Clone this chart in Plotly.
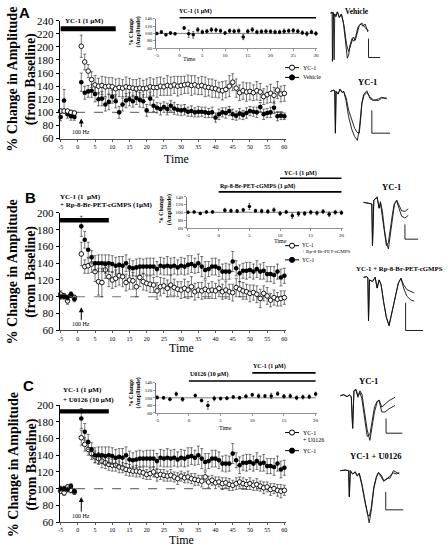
import plotly.graph_objects as go

W, H = 448, 553
SERIF = "Liberation Serif"
SANS = "Liberation Sans"

def fx(px):
    return px / W

def fy(py):
    return 1 - py / H

# ---------------- data: main panels (time in min, % of baseline) ----------------
times_main = [-5, -4, -3, -2, -1,
              1, 2, 3, 4, 5, 6, 7, 8, 9, 10,
              11, 12, 13, 14, 15, 16, 17, 18, 19, 20,
              21, 22, 23, 24, 25, 26, 27, 28, 29, 30,
              31, 32, 33, 34, 35, 36, 37, 38, 39, 40,
              41, 42, 43, 44, 45, 46, 47, 48, 49, 50,
              51, 52, 53, 54, 55, 56, 57, 58, 59, 60]

a_yc1 = [102, 102, 102, 100, 99,
         201, 177, 163, 150, 142, 140, 141, 139, 140, 139,
         136, 138, 137, 139, 138, 137, 136, 137, 136, 137,
         139, 138, 138, 140, 139, 141, 140, 142, 140, 141,
         142, 143, 141, 142, 140, 141, 139, 138, 137, 136,
         134, 133, 135, 140, 146, 137, 130, 133, 131, 132,
         130, 133, 131, 124, 127, 129, 126, 134, 128, 129]
a_yc1_err = [3, 3, 2, 3, 3,
             17, 12, 10, 12, 14, 12, 14, 15, 13, 14,
             15, 14, 13, 15, 14, 13, 14, 15, 13, 14,
             14, 13, 15, 14, 13, 15, 14, 13, 15, 14,
             13, 14, 15, 14, 13, 14, 15, 13, 14, 13,
             12, 14, 13, 16, 13, 14, 12, 13, 14, 13,
             12, 14, 13, 12, 13, 14, 12, 13, 12, 12]
a_vehicle = [93, 118, 97, 94, 93,
             146, 130, 132, 133, 128, 120, 121, 112, 116, 124,
             117, 100, 112, 118, 120, 117, 122, 119, 117, 103,
             121, 110, 107, 105, 108, 105, 110, 106, 104, 103,
             104, 101, 102, 100, 101, 101, 100, 99, 100, 92,
             97, 100, 99, 102, 97, 95, 98, 96, 99, 102,
             101, 100, 108, 97, 99, 100, 107, 94, 95, 94]
a_vehicle_err = [6, 17, 6, 6, 5,
                 14, 10, 9, 10, 12, 10, 11, 10, 12, 10,
                 10, 9, 10, 11, 10, 9, 10, 11, 10, 9,
                 10, 9, 8, 9, 8, 9, 8, 9, 8, 8,
                 8, 7, 8, 7, 8, 7, 8, 7, 8, 7,
                 8, 7, 8, 7, 8, 7, 8, 7, 8, 7,
                 7, 8, 7, 8, 7, 8, 9, 7, 6, 5]

bc_yc1 = [100, 100, 99, 103, 97,
          184, 168, 156, 147, 140, 140, 140, 139, 140, 139,
          137, 138, 137, 140, 135, 134, 135, 136, 136, 136,
          136, 136, 133, 137, 136, 137, 136, 137, 135, 137,
          136, 138, 139, 137, 140, 136, 132, 133, 136, 136,
          134, 130, 130, 130, 142, 134, 128, 131, 131, 132,
          130, 133, 130, 131, 127, 127, 126, 130, 123, 125]
bc_yc1_err = [3, 3, 3, 3, 3,
              12, 10, 9, 8, 9, 10, 10, 11, 10, 10,
              10, 10, 11, 10, 10, 9, 10, 10, 9, 10,
              10, 10, 9, 10, 10, 11, 10, 10, 9, 10,
              10, 11, 10, 9, 11, 12, 10, 9, 10, 10,
              10, 9, 10, 9, 12, 9, 10, 9, 10, 9,
              9, 10, 9, 10, 9, 9, 10, 9, 10, 9]
b_rp = [103, 101, 95, 102, 99,
        151, 136, 137, 139, 130, 118, 117, 132, 124, 120,
        122, 125, 124, 117, 120, 119, 112, 123, 118, 116,
        115, 114, 107, 112, 113, 110, 114, 111, 109, 108,
        110, 108, 112, 106, 108, 107, 109, 107, 108, 107,
        110, 106, 108, 106, 105, 111, 109, 107, 106, 104,
        105, 103, 98, 104, 101, 96, 99, 97, 98, 99]
b_rp_err = [4, 3, 4, 3, 3,
            14, 8, 9, 10, 12, 16, 17, 10, 12, 10,
            10, 11, 12, 10, 11, 10, 12, 11, 10, 9,
            10, 9, 10, 11, 9, 10, 12, 10, 9, 10,
            11, 10, 12, 10, 9, 10, 11, 9, 10, 9,
            10, 9, 10, 9, 10, 11, 9, 10, 9, 10,
            9, 10, 11, 9, 10, 8, 9, 8, 9, 8]
c_u0126 = [97, 95, 102, 98, 96,
           161, 153, 147, 142, 138, 136, 133, 131, 129, 128,
           128, 126, 125, 123, 122, 121, 121, 120, 119, 117,
           118, 120, 116, 117, 116, 115, 116, 114, 112, 115,
           113, 114, 112, 111, 110, 109, 114, 108, 110, 107,
           108, 106, 107, 105, 104, 106, 108, 106, 105, 106,
           104, 105, 103, 101, 102, 99, 100, 98, 97, 98]
c_u0126_err = [3, 3, 3, 3, 3,
               9, 8, 7, 7, 7, 7, 8, 7, 7, 7,
               7, 7, 6, 7, 7, 6, 7, 6, 7, 6,
               7, 6, 7, 6, 7, 6, 7, 6, 7, 6,
               6, 7, 6, 7, 6, 7, 6, 7, 6, 7,
               6, 7, 6, 7, 6, 7, 6, 7, 6, 7,
               6, 7, 6, 7, 6, 7, 6, 7, 8, 6]

# drug application bars (min)
bar_a = [-5, 11]
bar_b = [-5.5, 9]
bar_c = [-5.5, 9]
tetanus_time = 1

main_xticks = [-5, 0, 5, 10, 15, 20, 25, 30, 35, 40, 45, 50, 55, 60]

# ---------------- data: insets ----------------
inset_a_t = [-5, -4, -3, -2, -1, 1, 2, 3, 4, 5, 6, 7, 8, 9, 10, 11, 12, 13, 14, 15,
             16, 17, 18, 19, 20, 21, 22, 23, 24, 25, 26, 27, 28, 29, 30]
inset_a_v = [100, 104, 96, 101, 99, 115, 99, 96, 110, 104, 106, 110, 109, 107, 101,
             107, 106, 107, 90, 106, 110, 104, 105, 106, 105,
             104, 104, 106, 107, 108, 106, 102, 99, 104, 100]
inset_a_err = [3, 4, 3, 4, 3, 4, 10, 9, 6, 5, 5, 6, 5, 5, 4,
               5, 5, 5, 7, 5, 6, 5, 5, 5, 5, 5, 5, 6, 5, 5, 5, 5, 6, 5, 5]
inset_bc_t = [-5, -4, -3, -2, -1, 1, 2, 3, 4, 5, 6, 7, 8, 9, 10,
              11, 12, 13, 14, 15, 16, 17, 18, 19, 20]
inset_b_v = [100, 101, 97, 101, 101, 105, 104, 103, 106, 115, 104, 103, 102, 106, 97,
             101, 91, 96, 97, 100, 98, 102, 95, 100, 99]
inset_b_err = [3, 3, 3, 3, 3, 5, 4, 4, 4, 8, 4, 5, 5, 5, 5,
               4, 7, 6, 5, 5, 5, 5, 6, 5, 5]
inset_c_v = [101, 100, 96, 110, 96, 106, 93, 80, 98, 98, 99, 102, 100, 104, 108,
             105, 105, 105, 111, 104, 105, 100, 102, 103, 110]
inset_c_err = [4, 4, 4, 5, 5, 4, 4, 10, 6, 4, 4, 4, 4, 4, 4,
               5, 4, 7, 5, 5, 5, 5, 5, 5, 5]
inset_a_bar_yc1 = [0, 30]
inset_b_bar_rp = [0, 20]
inset_b_bar_yc1 = [10, 20]
inset_c_bar_u0126 = [0, 20]
inset_c_bar_yc1 = [10, 20]

# ---------------- data: example field potentials (sample, amplitude) ----------------
wa_veh1_t = [95, 100, 101, 103, 110, 116, 122, 128, 134, 140, 146, 150, 154, 160, 166, 172, 178, 186, 194, 200, 208]
wa_veh1_v = [22, 18, 170, 22, 32, 18, 35, 25, 50, 110, 160, 150, 120, 100, 108, 90, 65, 55, 62, 55, 80]
wa_veh2_t = [95, 104, 106, 108, 112, 116, 122, 128, 136, 144, 150, 154, 158, 164, 170, 176, 182, 190, 198, 204, 210]
wa_veh2_v = [22, 20, 165, 24, 32, 18, 35, 25, 60, 120, 140, 125, 110, 95, 105, 80, 60, 52, 65, 70, 75]
wa_yc1_t = [95, 105, 108, 110, 112, 118, 124, 130, 135, 142, 150, 160, 168, 176, 182, 186, 190, 196, 205, 215, 225, 240, 250, 265]
wa_yc1_v1 = [262, 258, 260, 390, 262, 270, 255, 265, 262, 290, 340, 380, 400, 412, 380, 330, 295, 270, 260, 285, 290, 285, 280, 285]
wa_yc1_v2 = [262, 258, 260, 390, 262, 270, 255, 265, 262, 280, 320, 350, 375, 388, 390, 350, 300, 275, 265, 280, 288, 290, 282, 282]

wb_yc1_t = [195, 212, 220, 222, 226, 236, 242, 246, 252, 258, 264, 270, 276, 282, 288, 295, 302, 310, 320, 330]
wb_yc1_v1 = [92, 95, 97, 225, 85, 75, 110, 90, 120, 175, 215, 235, 190, 150, 100, 85, 100, 118, 120, 112]
wb_yc1_v2 = [92, 95, 97, 225, 85, 78, 110, 95, 135, 190, 225, 215, 165, 130, 95, 88, 110, 135, 140, 132]
wb_rp_t = [195, 205, 208, 210, 213, 222, 230, 236, 242, 248, 256, 264, 272, 280, 290, 300, 308, 316, 326, 338, 348]
wb_rp_v1 = [322, 320, 324, 455, 330, 335, 322, 355, 330, 345, 400, 445, 470, 430, 380, 340, 325, 345, 360, 365, 370]
wb_rp_v2 = [322, 320, 324, 455, 330, 335, 322, 355, 330, 345, 400, 445, 470, 430, 380, 340, 325, 355, 380, 392, 395]

wc_yc1_t = [125, 135, 145, 152, 158, 162, 166, 172, 178, 184, 190, 198, 206, 214, 220, 228, 236, 242, 250, 260, 272, 290]
wc_yc1_v1 = [115, 112, 118, 113, 118, 215, 100, 95, 115, 100, 110, 160, 220, 252, 220, 165, 135, 128, 150, 140, 130, 120]
wc_yc1_v2 = [115, 112, 118, 113, 118, 215, 100, 98, 120, 105, 125, 185, 240, 235, 200, 150, 132, 130, 165, 165, 155, 145]
wc_u_t = [125, 140, 150, 152, 155, 162, 170, 176, 182, 190, 200, 208, 212, 218, 226, 234, 240, 248, 256, 265, 275, 285, 295, 303]
wc_u_v1 = [345, 343, 345, 425, 345, 355, 348, 360, 352, 385, 440, 490, 505, 470, 400, 365, 352, 358, 375, 372, 360, 352, 355, 350]
wc_u_v2 = [345, 343, 345, 425, 345, 355, 350, 362, 355, 390, 445, 480, 485, 460, 395, 362, 350, 362, 378, 368, 368, 345, 352, 355]

# ---------------- figure ----------------
fig = go.Figure()
layout = dict(width=W, height=H, margin=dict(l=0, r=0, t=0, b=0),
              paper_bgcolor="white", plot_bgcolor="rgba(0,0,0,0)", showlegend=False)
shapes = []
annotations = []


def txt(x, y, s, size, bold=False, family=SERIF, xanchor="center", angle=0):
    if bold:
        s = "<b>" + s.replace("<br>", "</b><br><b>") + "</b>"
    annotations.append(dict(x=fx(x), y=fy(y), xref="paper", yref="paper", text=s,
                            showarrow=False, font=dict(family=family, size=size, color="black"),
                            xanchor=xanchor, yanchor="middle", textangle=angle))


def axkey(n, kind):
    return kind + ("" if n == 1 else str(n))


def main_axes(n, top, bottom, ymax):
    layout[axkey(n, "xaxis")] = dict(
        domain=[fx(59), fx(287)], range=[-5.3, 60.5], anchor=axkey(n, "y"),
        tickmode="array", tickvals=main_xticks, ticktext=[str(v) for v in main_xticks],
        ticks="outside", ticklen=2, tickwidth=0.8, tickcolor="#333",
        tickfont=dict(family=SERIF, size=6, color="black"),
        showline=True, linecolor="#444", linewidth=1, showgrid=False, zeroline=False)
    yt = [v for v in range(60, ymax + 1, 20)]
    layout[axkey(n, "yaxis")] = dict(
        domain=[fy(bottom), fy(top)], range=[60, ymax], anchor=axkey(n, "x"),
        tickmode="array", tickvals=yt, ticktext=[str(v) for v in yt],
        ticks="outside", ticklen=3, tickwidth=1, tickcolor="black",
        tickfont=dict(family=SERIF, size=11, color="black"),
        showline=True, linecolor="black", linewidth=1, showgrid=False, zeroline=False)


def inset_axes(n, left, right, top, bottom, xmax, xticks):
    layout[axkey(n, "xaxis")] = dict(
        domain=[fx(left), fx(right)], range=[-5.2, xmax + 0.2], anchor=axkey(n, "y"),
        tickmode="array", tickvals=xticks, ticktext=[str(v) for v in xticks],
        ticks="outside", ticklen=2, tickwidth=0.6, tickcolor="#555",
        tickfont=dict(family=SERIF, size=5, color="black"),
        showline=True, linecolor="#777", linewidth=0.8, showgrid=False, zeroline=False)
    layout[axkey(n, "yaxis")] = dict(
        domain=[fy(bottom), fy(top)], range=[60, 140], anchor=axkey(n, "x"),
        tickmode="array", tickvals=[60, 80, 100, 120, 140], ticktext=["60", "80", "100", "120", "140"],
        ticks="outside", ticklen=2, tickwidth=0.6, tickcolor="#555",
        tickfont=dict(family=SERIF, size=5, color="black"),
        showline=True, linecolor="#555", linewidth=0.8, showgrid=False, zeroline=False)


def wave_axes(n, left, right, top, bottom, ox, oy):
    layout[axkey(n, "xaxis")] = dict(domain=[fx(left), fx(right)], range=[(left - ox) * 3, (right - ox) * 3],
                                     anchor=axkey(n, "y"), visible=False)
    layout[axkey(n, "yaxis")] = dict(domain=[fy(bottom), fy(top)], range=[(bottom - oy) * 3, (top - oy) * 3],
                                     anchor=axkey(n, "x"), visible=False)


def series(n, x, y, err, filled, size=4.6, thick=0.6, cap=1.5):
    fig.add_trace(go.Scatter(
        x=x, y=y, mode="markers", xaxis=axkey(n, "x"), yaxis=axkey(n, "y"),
        marker=dict(symbol="circle", size=size, color="black" if filled else "white",
                    line=dict(color="black", width=0.9 if not filled else 0)),
        error_y=dict(type="data", array=err, visible=True, thickness=thick, width=cap, color="#222"),
        hoverinfo="skip", cliponaxis=False))


def wave(n, t, v):
    fig.add_trace(go.Scatter(x=t, y=v, mode="lines", xaxis=axkey(n, "x"), yaxis=axkey(n, "y"),
                             line=dict(color="#111", width=0.9), hoverinfo="skip"))


# main panels
main_axes(1, 15, 135.5, 240)
main_axes(2, 211.5, 331.5, 200)
main_axes(3, 408, 527.5, 200)

for n in (1, 2, 3):
    shapes.append(dict(type="line", xref=axkey(n, "x"), yref=axkey(n, "y"), x0=-0.5, x1=60, y0=100, y1=100,
                       line=dict(color="#777", width=1.2, dash="dash"), layer="below"))

series(1, times_main, a_vehicle, a_vehicle_err, True)
series(1, times_main, a_yc1, a_yc1_err, False)
series(2, times_main, b_rp, b_rp_err, False)
series(2, times_main, bc_yc1, bc_yc1_err, True)
series(3, times_main, c_u0126, c_u0126_err, False)
series(3, times_main, bc_yc1, bc_yc1_err, True)

# drug application bars
for n, b, y0, y1 in ((1, bar_a, 20.7, 25.7), (2, bar_b, 216.8, 221.2), (3, bar_c, 412.2, 416.6)):
    shapes.append(dict(type="rect", xref=axkey(n, "x"), yref="paper", x0=b[0], x1=b[1],
                       y0=fy(y1), y1=fy(y0), fillcolor="black", line=dict(width=0)))

# 100 Hz arrows
for n, yhead, off in ((1, 115, 13), (2, 308, 17), (3, 502, 19)):
    annotations.append(dict(x=tetanus_time, y=fy(yhead), xref=axkey(n, "x"), yref="paper",
                            text="100 Hz", showarrow=True, ax=0, ay=off, arrowhead=2, arrowsize=1,
                            arrowwidth=1, arrowcolor="black", standoff=0,
                            font=dict(family=SERIF, size=6, color="black")))

# insets
inset_axes(4, 156, 318, 13, 43, 30, [-5, 0, 5, 10, 15, 20, 25, 30])
inset_axes(5, 187, 344, 195, 226.7, 20, [-5, 0, 5, 10, 15, 20])
inset_axes(6, 156, 318, 385, 416, 20, [-5, 0, 5, 10, 15, 20])
for n, xmax in ((4, 30), (5, 20), (6, 20)):
    shapes.append(dict(type="line", xref=axkey(n, "x"), yref=axkey(n, "y"), x0=-5, x1=xmax, y0=100, y1=100,
                       line=dict(color="#222", width=0.6), layer="below"))
series(4, inset_a_t, inset_a_v, inset_a_err, True, size=3.5, thick=0.6, cap=1)
series(5, inset_bc_t, inset_b_v, inset_b_err, True, size=3.5, thick=0.6, cap=1)
series(6, inset_bc_t, inset_c_v, inset_c_err, True, size=3.5, thick=0.6, cap=1)

for n, b, ypx in ((4, inset_a_bar_yc1, 12), (5, inset_b_bar_yc1, 176), (5, inset_b_bar_rp, 190),
                  (6, inset_c_bar_yc1, 375), (6, inset_c_bar_u0126, 383.3)):
    shapes.append(dict(type="line", xref=axkey(n, "x"), yref="paper", x0=b[0], x1=b[1],
                       y0=fy(ypx), y1=fy(ypx), line=dict(color="black", width=1.6)))

# waveform axes
wave_axes(7, 325, 448, 0, 190, 300, 0)
wave_axes(8, 355, 448, 175, 370, 300, 170)
wave_axes(9, 330, 448, 365, 553, 300, 360)
wave(7, wa_veh1_t, wa_veh1_v)
wave(7, wa_veh2_t, wa_veh2_v)
wave(7, wa_yc1_t, wa_yc1_v1)
wave(7, wa_yc1_t, wa_yc1_v2)
wave(8, wb_yc1_t, wb_yc1_v1)
wave(8, wb_yc1_t, wb_yc1_v2)
wave(8, wb_rp_t, wb_rp_v1)
wave(8, wb_rp_t, wb_rp_v2)
wave(9, wc_yc1_t, wc_yc1_v1)
wave(9, wc_yc1_t, wc_yc1_v2)
wave(9, wc_u_t, wc_u_v1)
wave(9, wc_u_t, wc_u_v2)

# calibration bars
for n, (xv, yt, yb, xr) in ((7, (210, 100, 158, 245)), (7, (220, 320, 390, 275)),
                            (8, (320, 160, 205, 360)), (8, (322, 400, 485, 375)),
                            (9, (263, 185, 230, 312)), (9, (262, 410, 465, 315))):
    shapes.append(dict(type="line", xref=axkey(n, "x"), yref=axkey(n, "y"), x0=xv, x1=xv, y0=yt, y1=yb,
                       line=dict(color="#222", width=1)))
    shapes.append(dict(type="line", xref=axkey(n, "x"), yref=axkey(n, "y"), x0=xv, x1=xr, y0=yb, y1=yb,
                       line=dict(color="#222", width=1)))

# legends (glyphs)
def glyph(x, y, filled):
    shapes.append(dict(type="line", xref="paper", yref="paper", x0=fx(x - 7), x1=fx(x + 7), y0=fy(y), y1=fy(y),
                       line=dict(color="black", width=1)))
    shapes.append(dict(type="circle", xref="paper", yref="paper", x0=fx(x - 2.6), x1=fx(x + 2.6),
                       y0=fy(y + 2.6), y1=fy(y - 2.6), fillcolor="black" if filled else "white",
                       line=dict(color="black", width=1)))

glyph(293, 63, False); txt(302, 63, "YC-1", 6, xanchor="left")
glyph(293, 73, True); txt(302, 73, "Vehicle", 6, xanchor="left")
glyph(293, 245, False); txt(301, 244.3, "YC-1", 5.2, xanchor="left")
txt(301, 251.3, "+ Rp-8-Br-PET-cGMPS", 5, xanchor="left")
glyph(293, 259.5, True); txt(301, 259.5, "YC-1", 5.5, xanchor="left")
glyph(293, 436, False); txt(302, 436, "YC-1", 6, xanchor="left")
txt(302, 443.5, "+ U0126", 6, xanchor="left")
glyph(293, 454.5, True); txt(302, 454.5, "YC-1", 6, xanchor="left")

# text labels
txt(24, 7, "A", 15, bold=True, family=SANS)
txt(30, 196, "B", 15, bold=True, family=SANS)
txt(28, 388, "C", 15, bold=True, family=SANS)

ytitle = "% Change in Amplitude<br>(from Baseline)"
txt(21.5, 75, ytitle, 14, bold=True, angle=-90)
txt(21.5, 272, ytitle, 14, bold=True, angle=-90)
txt(21.5, 469, ytitle, 14, bold=True, angle=-90)

txt(177, 156, "Time", 12)
txt(182, 350, "Time", 12)
txt(182, 546, "Time", 12)

txt(84, 15, "YC-1 (1 µM)", 7, bold=True)
txt(57, 195, "YC-1 (1  µM)", 7, bold=True, xanchor="left")
txt(57, 203.5, "+ Rp-8-Br-PET-cGMPS (1µM)", 7, bold=True, xanchor="left")
txt(60, 393, "YC-1 (1 µM)", 7, bold=True, xanchor="left")
txt(60, 403, "+ U0126 (10 µM)", 7, bold=True, xanchor="left")

inset_ytitle = "% Change<br>(Amplitude)"
txt(135, 27, inset_ytitle, 6, bold=True, angle=-90)
txt(166, 208, inset_ytitle, 6, bold=True, angle=-90)
txt(135, 396, inset_ytitle, 6, bold=True, angle=-90)
txt(190, 54, "Time", 6)
txt(281, 240, "Time", 6)
txt(226, 431, "Time", 6)

txt(196, 6, "YC-1 (1 µM)", 6, bold=True)
txt(302, 171, "YC-1 (1 µM)", 6, bold=True)
txt(258, 185, "Rp-8-Br-PET-cGMPS (1 µM)", 6, bold=True)
txt(270, 368, "YC-1 (1 µM)", 6, bold=True)
txt(209, 377, "U0126 (10 µM)", 6, bold=True)

txt(358, 6, "Vehicle", 7.5, bold=True)
txt(369, 78, "YC-1", 8.5, bold=True)
txt(393, 185, "YC-1", 8.5, bold=True)
txt(447, 268.5, "YC-1 + Rp-8-Br-PET-cGMPS", 6.8, bold=True, xanchor="right")
txt(370, 383, "YC-1", 8.5, bold=True)
txt(378, 459.5, "YC-1 + U0126", 8.5, bold=True)

layout["shapes"] = shapes
layout["annotations"] = annotations
fig.update_layout(**layout)
fig.write_html("out.html", config={"displayModeBar": False, "staticPlot": True},
               post_script="document.body.style.margin='0px';")
